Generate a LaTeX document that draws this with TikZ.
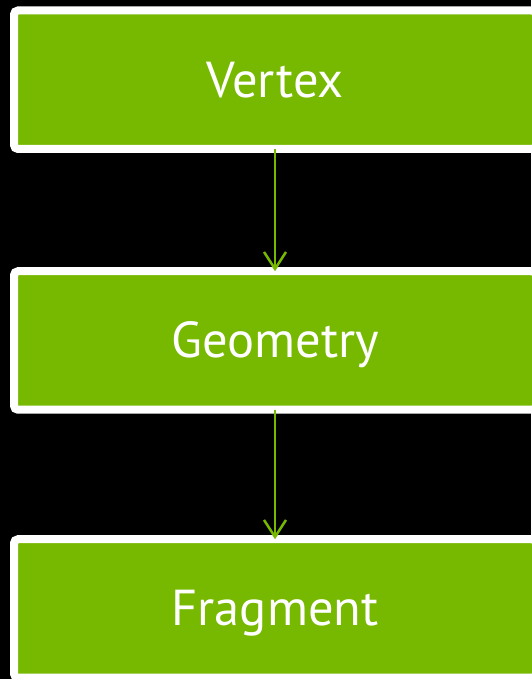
\documentclass[tikz,border=0pt]{standalone}
\usepackage{fontspec}
\setmainfont{PT Sans}
\usetikzlibrary{arrows.meta}
\definecolor{stagegreen}{RGB}{118,185,0}
\tikzset{
  stage/.style={rectangle, draw=white, line width=8pt, fill=stagegreen,
    rounded corners=4pt, outer sep=0pt, minimum width=522pt,
    minimum height=138.5pt, text=white,
    text height=35pt, text depth=0pt,
    font=\fontsize{50.5}{60}\selectfont},
  flow/.style={draw=stagegreen, line width=2.5pt,
    -{Straight Barb[length=17pt, width=22pt, line width=2.5pt]}}
}
\begin{document}
\begin{tikzpicture}[x=1pt, y=1pt]
  \fill[black] (0,0) rectangle (531,679);
  \useasboundingbox (0,0) rectangle (531,679);
  \node[stage] (vertex)   at (275,599.25) {Vertex};
  \node[stage] (geometry) at (275,338.5)  {Geometry};
  \node[stage] (fragment) at (275,70.5)   {Fragment};
  \draw[flow] (vertex.south) -- (geometry.north);
  \draw[flow] (geometry.south) -- (fragment.north);
\end{tikzpicture}
\end{document}
